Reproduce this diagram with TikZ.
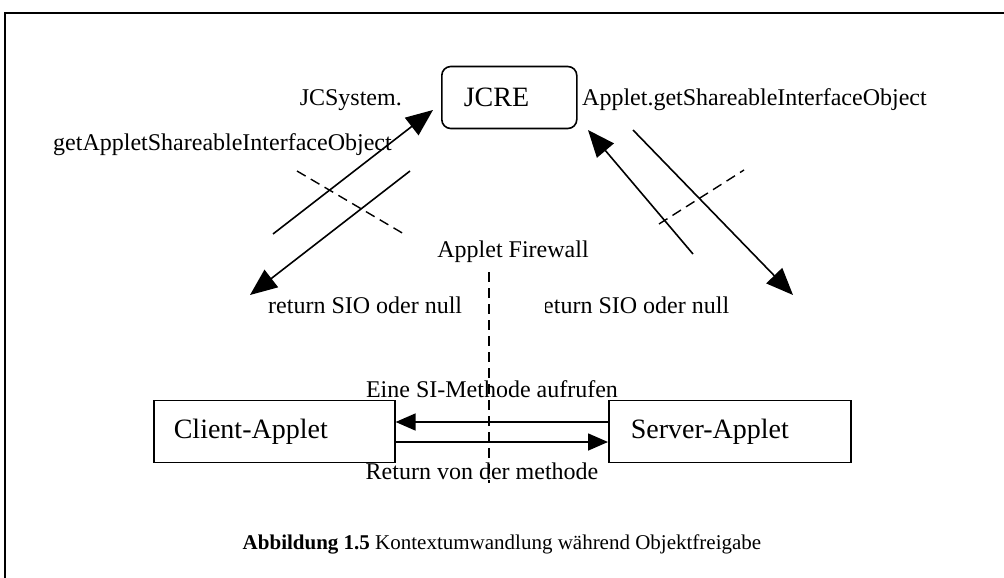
\documentclass[tikz,border=0pt]{standalone}
\usepackage{fontspec}
\setmainfont{Liberation Serif}
\usetikzlibrary{arrows.meta}
\begin{document}
\begin{tikzpicture}[x=1pt,y=-1pt,
  every node/.style={font=\fontsize{24}{28}\selectfont, inner sep=0pt},
  boxnode/.style={draw, line width=1.6pt, minimum height=62pt, font=\fontsize{28}{32}\selectfont, anchor=west, align=left},
  conn/.style={line width=1.6pt},
  bigtip/.style={-{Triangle[length=27pt,width=22pt]}},
  smalltip/.style={-{Triangle[length=20pt,width=17pt]}},
  dashline/.style={line width=1.4pt, dash pattern=on 10pt off 6pt}]
\useasboundingbox (0,0) rectangle (1004,578);
% outer frame
\draw[line width=2.5pt] (1030,13) -- (5,13) -- (5,600);

% boxes
\node[boxnode, rounded corners=9pt, minimum width=135pt, inner xsep=22pt, text width=91pt] (jcre) at (441,97.5) {JCRE};
\node[boxnode, minimum width=241pt, inner xsep=20pt, text width=201pt] (client) at (153,431.5) {Client-Applet};
\node[boxnode, minimum width=242pt, inner xsep=22pt, text width=198pt] (server) at (608,431.5) {Server-Applet};

% labels
\node[anchor=base east] (jcs) at (402,106) {JCSystem.};
\node[anchor=base west] (gasio) at (53,150) {getAppletShareableInterfaceObject};
\node[anchor=base west] (agsio) at (582,106) {Applet.getShareableInterfaceObject};
\node[anchor=base] (fw) at (513,257) {Applet Firewall};
\node[anchor=base west] (rsio1) at (268,313) {return SIO oder null};
\begin{scope}
  \clip (545,280) rectangle (780,330);
  \node[anchor=base west] (rsio2) at (535,313) {return SIO oder null};
\end{scope}
\node[anchor=base] (call) at (492,397) {Eine SI-Methode aufrufen};
\node[anchor=base] (ret) at (482,479) {Return von der methode};
\node[anchor=base, font=\fontsize{21}{25}\selectfont] (cap) at (502,549) {\textbf{Abbildung 1.5} Kontextumwandlung während Objektfreigabe};

% coordinates for free-standing arrows
\coordinate (a1s) at (273,234); \coordinate (a1e) at (433,110);
\coordinate (a2s) at (410,171); \coordinate (a2e) at (250,295);
\coordinate (a3s) at (693,254); \coordinate (a3e) at (588,130);
\coordinate (a4s) at (633,130); \coordinate (a4e) at (793,295);
\coordinate (d1s) at (297,171); \coordinate (d1e) at (404,234);
\coordinate (d2s) at (659,224); \coordinate (d2e) at (744,170);
\coordinate (vfs) at (489,272); \coordinate (vfe) at (489,483);
\coordinate (yu) at (0,422); \coordinate (yl) at (0,442);

\draw[conn, bigtip] (a1s) -- (a1e);
\draw[conn, bigtip] (a2s) -- (a2e);
\draw[conn, bigtip] (a3s) -- (a3e);
\draw[conn, bigtip] (a4s) -- (a4e);
\draw[dashline] (d1s) -- (d1e);
\draw[dashline] (d2s) -- (d2e);
\draw[dashline] (vfs) -- (vfe);

\draw[conn, smalltip] (server.west |- yu) -- (client.east |- yu);
\draw[conn, smalltip] (client.east |- yl) -- (server.west |- yl);
\end{tikzpicture}
\end{document}
